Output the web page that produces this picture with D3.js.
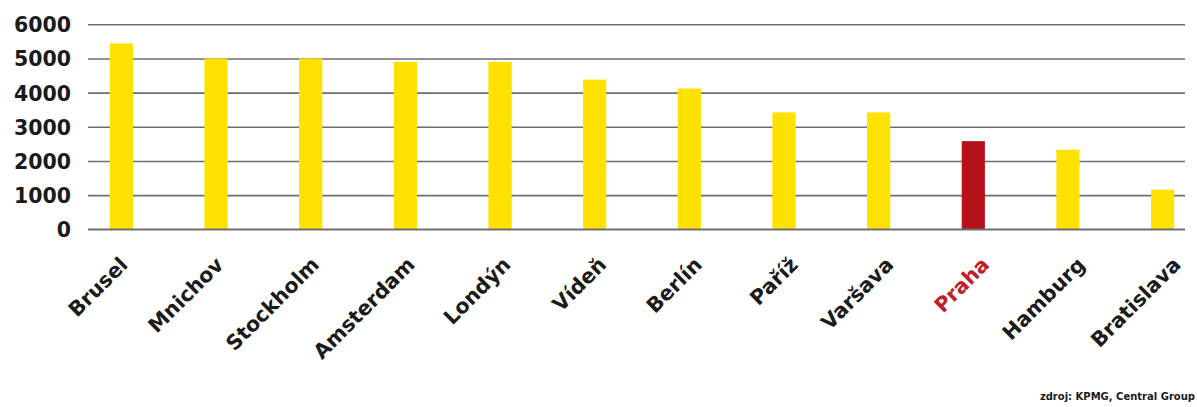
<!DOCTYPE html>
<html>
<head>
<meta charset="utf-8">
<script src="https://cdn.jsdelivr.net/npm/d3@7"></script>
<style>
  html, body { margin: 0; padding: 0; background: #ffffff; }
  svg { display: block; }
</style>
</head>
<body>
<svg id="chart" width="1197" height="407"></svg>
<script>
const categories = ["Brusel", "Mnichov", "Stockholm", "Amsterdam", "Londýn", "Vídeň", "Berlín", "Paříž", "Varšava", "Praha", "Hamburg", "Bratislava"];
const values = [5440, 5000, 5000, 4900, 4900, 4380, 4120, 3420, 3420, 2580, 2330, 1160];
const highlight = ["Praha"];
const yTicks = [0, 1000, 2000, 3000, 4000, 5000, 6000];
const sourceText = "zdroj: KPMG, Central Group";

const FONT = "'DejaVu Sans', sans-serif";
const YELLOW = "#FFE100";
const RED = "#B5121B";
const RED_TEXT = "#C0202A";
const TEXT = "#1b1b1b";
const GRID = "#6e6e6e";

const svg = d3.select("#chart");

const y = d3.scaleLinear().domain([0, 6000]).range([229.3, 24.3]);
const x = d3.scaleBand().domain(categories).range([74, 1210]).paddingInner(0.755).paddingOuter(0.378);
const xl = d3.scalePoint().domain(categories).range([129, 1182]);

// grid lines (including baseline)
const gridLeft = 88, gridRight = 1185;
svg.append("g")
  .attr("transform", `translate(${gridLeft},0)`)
  .call(d3.axisRight(y).tickValues(yTicks).tickSize(gridRight - gridLeft).tickFormat(""))
  .call(g => g.select(".domain").remove())
  .call(g => g.selectAll(".tick line").attr("stroke", GRID).attr("stroke-width", 1.6));

// y tick labels
svg.append("g")
  .attr("transform", `translate(71,0)`)
  .call(d3.axisLeft(y).tickValues(yTicks).tickSize(0).tickPadding(0).tickFormat(d3.format("d")))
  .call(g => g.select(".domain").remove())
  .call(g => g.selectAll(".tick text")
    .attr("font-family", FONT)
    .attr("font-weight", "bold")
    .attr("font-size", "20.5px")
    .attr("fill", TEXT)
    .attr("dy", "0.36em"));

// bars
svg.append("g").selectAll("rect")
  .data(categories)
  .join("rect")
  .attr("x", d => x(d))
  .attr("width", x.bandwidth())
  .attr("y", (d, i) => y(values[i]))
  .attr("height", (d, i) => y(0) - y(values[i]))
  .attr("fill", d => highlight.includes(d) ? RED : YELLOW);

// redraw baseline on top of bars
svg.append("line")
  .attr("x1", gridLeft).attr("x2", gridRight)
  .attr("y1", y(0)).attr("y2", y(0))
  .attr("stroke", GRID).attr("stroke-width", 1.6);

// category labels
svg.append("g").selectAll("text")
  .data(categories)
  .join("text")
  .attr("transform", d => `translate(${xl(d)},266) rotate(-45)`)
  .attr("text-anchor", "end")
  .attr("font-family", FONT)
  .attr("font-weight", "bold")
  .attr("font-size", "20.5px")
  .attr("fill", d => highlight.includes(d) ? RED_TEXT : TEXT)
  .text(d => d);

// source
svg.append("text")
  .attr("x", 1195)
  .attr("y", 400)
  .attr("text-anchor", "end")
  .attr("font-family", FONT)
  .attr("font-weight", "bold")
  .attr("font-size", "10px")
  .attr("fill", TEXT)
  .text(sourceText);
</script>
</body>
</html>
